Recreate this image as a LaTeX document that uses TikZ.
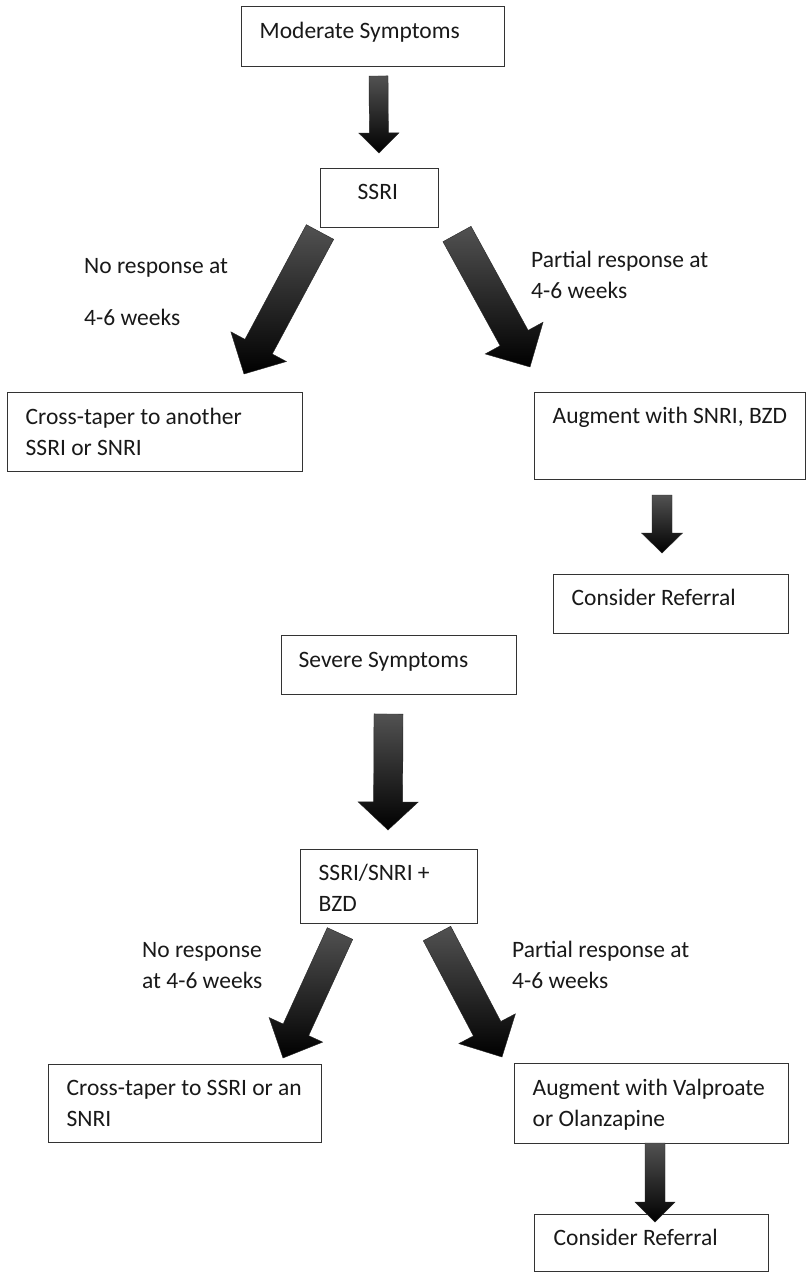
\documentclass[tikz,border=0pt]{standalone}
\usepackage{fontspec}
\setmainfont{Carlito}
\usetikzlibrary{calc}
\newcommand\fline[1]{\mbox{\strut#1}\par}
\tikzset{
  txt/.style={font=\fontsize{23.5}{31}\selectfont, text=black!90},
  box/.style={txt, draw=black!80, line width=1.4pt, anchor=north west, inner xsep=#1, inner ysep=0pt},
  lbl/.style={txt, anchor=north west, inner sep=0pt},
  barrow/.style={top color=black!68, middle color=black, bottom color=black, draw=black!85, line width=0.4pt}
}
% name, left, top, right, bottom, text x, first baseline, lines
\newcommand\flowbox[8]{%
  \pgfmathsetmacro\bxpad{#6-#2}%
  \pgfmathsetmacro\bxw{#4-#2-2*\bxpad}%
  \pgfmathsetmacro\bxh{#5-#3}%
  \pgfmathsetmacro\bxk{#7-#3-21.7}%
  \node[box=\bxpad pt] (#1) at (#2,#3) {\parbox[t][\bxh pt][t]{\bxw pt}{\vspace*{\bxk pt}#8}};}
% name, x, first baseline, lines
\newcommand\flowlabel[4]{%
  \pgfmathsetmacro\lby{#3-21.7}%
  \node[lbl] (#1) at (#2,\lby) {\parbox[t]{260pt}{#4}};}
% from, to, shaft half width, head half width, head length
\newcommand\blockarrow[5]{%
  \coordinate (bah) at ($(#2)!#5!(#1)$);
  \shade[barrow] ($(#1)!#3!90:(#2)$) -- ($(bah)!#3!-90:(#1)$) -- ($(bah)!#4!-90:(#1)$) -- (#2)
     -- ($(bah)!#4!90:(#1)$) -- ($(bah)!#3!90:(#1)$) -- ($(#1)!#3!-90:(#2)$) -- cycle;}
\begin{document}
\begin{tikzpicture}[x=1pt,y=-1pt]
\useasboundingbox (0,0) rectangle (806,1273);
\fill[white] (0,0) rectangle (806,1273);

% boxes
\flowbox{mod}{241}{6}{504}{66}{259}{38}{\fline{Moderate Symptoms}}
\flowbox{ssri}{320}{168}{438}{227}{357}{199}{\fline{SSRI}}
\flowbox{crossA}{7}{392}{302}{471}{25}{424}{\fline{Cross-taper to another}\fline{SSRI or SNRI}}
\flowbox{augA}{534}{392}{805}{479}{552}{423}{\fline{Augment with SNRI, BZD}}
\flowbox{refA}{553}{574}{788}{633}{571}{605}{\fline{Consider Referral}}
\flowbox{sev}{281}{635}{516}{694}{298}{667}{\fline{Severe Symptoms}}
\flowbox{combo}{300}{849}{477}{923}{318}{880}{\fline{SSRI/SNRI +}\fline{BZD}}
\flowbox{crossB}{48}{1064}{321}{1142}{66}{1095}{\fline{Cross-taper to SSRI or an}\fline{SNRI}}
\flowbox{augB}{514}{1063}{788}{1143}{532}{1095}{\fline{Augment with Valproate}\fline{or Olanzapine}}
\flowbox{refB}{534}{1214}{768}{1271}{553}{1245}{\fline{Consider Referral}}

% labels
\flowlabel{noA}{84}{273}{\fline{No response at}\vspace{21pt}\fline{4-6 weeks}}
\flowlabel{partA}{531}{267}{\fline{Partial response at}\fline{4-6 weeks}}
\flowlabel{noB}{142}{957}{\fline{No response}\fline{at 4-6 weeks}}
\flowlabel{partB}{512}{957}{\fline{Partial response at}\fline{4-6 weeks}}

% arrow end points
\coordinate (a1s) at (378.5,76);  \coordinate (a1e) at (379,153);
\coordinate (a2s) at (320,232);   \coordinate (a2e) at (244,374);
\coordinate (a3s) at (457,234);   \coordinate (a3e) at (530,367);
\coordinate (a4s) at (662,495);   \coordinate (a4e) at (662,553);
\coordinate (a5s) at (388.5,714); \coordinate (a5e) at (388,830);
\coordinate (a6s) at (340,933.5); \coordinate (a6e) at (283,1058);
\coordinate (a7s) at (437,933.5); \coordinate (a7e) at (502,1057);
\coordinate (a8s) at (655,1143);  \coordinate (a8e) at (655,1222);

\blockarrow{a1s}{a1e}{9.5pt}{20pt}{20pt}
\blockarrow{a2s}{a2e}{15.5pt}{31.5pt}{31pt}
\blockarrow{a3s}{a3e}{16pt}{33pt}{33pt}
\blockarrow{a4s}{a4e}{10pt}{20.5pt}{20pt}
\blockarrow{a5s}{a5e}{14.5pt}{30pt}{28pt}
\blockarrow{a6s}{a6e}{14pt}{29.5pt}{31pt}
\blockarrow{a7s}{a7e}{15.5pt}{32pt}{32pt}
\blockarrow{a8s}{a8e}{10pt}{20pt}{20pt}
\end{tikzpicture}
\end{document}
